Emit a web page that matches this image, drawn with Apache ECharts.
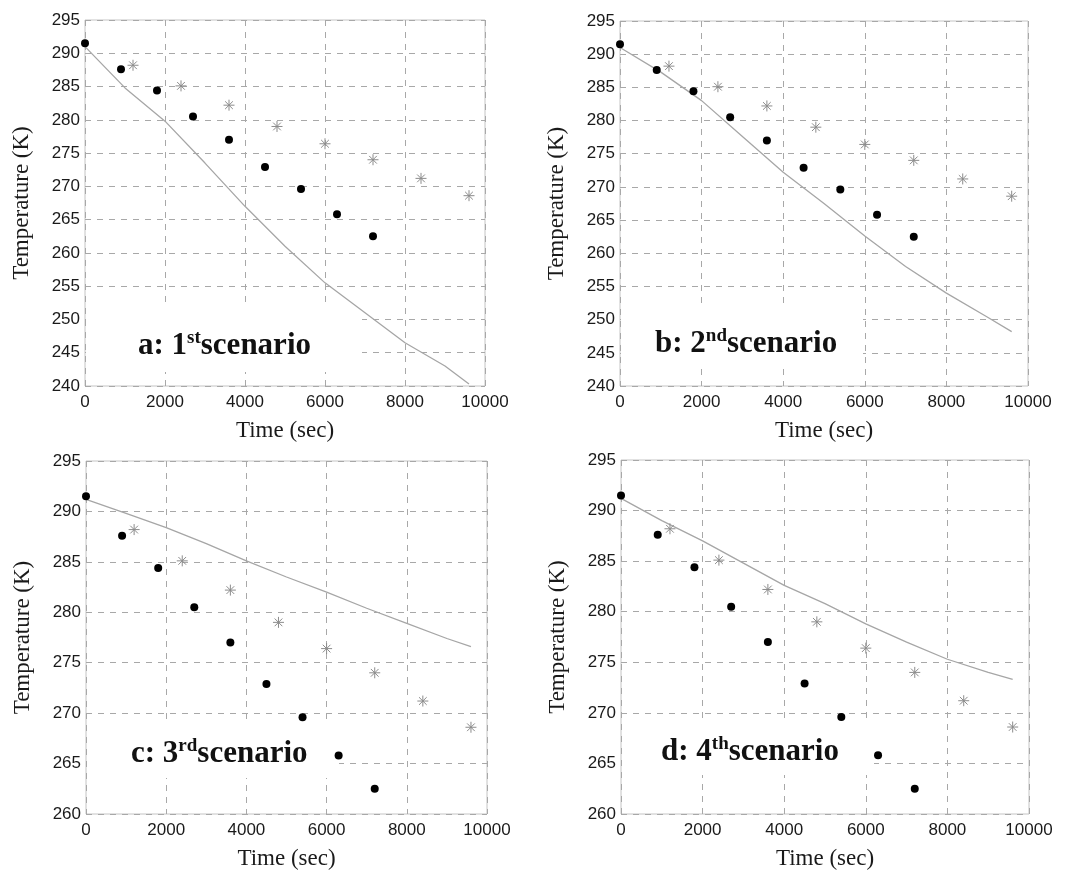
<!doctype html>
<html lang="en">
<head>
    <meta charset="utf-8">
    <title>Temperature scenarios</title>
    <style>
        html, body { margin: 0; padding: 0; background: #fff; }
        #main { width: 1071px; height: 871px; }
    </style>
</head>
<body>

<div id="main"></div>

<script src="https://cdn.jsdelivr.net/npm/echarts@6/dist/echarts.min.js"></script>

<script>
    var myChart = echarts.init(document.getElementById('main'));

    // measured points (black dots)
    var dotTime = [0, 900, 1800, 2700, 3600, 4500, 5400, 6300, 7200];
    var dotTemp = [291.5, 287.6, 284.4, 280.5, 277.0, 272.9, 269.6, 265.8, 262.5];

    // second data set (grey stars)
    var starTime = [1200, 2400, 3600, 4800, 6000, 7200, 8400, 9600];
    var starTemp = [288.2, 285.1, 282.2, 279.0, 276.4, 274.0, 271.2, 268.6];

    // simulated curves
    var curveTime = [0, 1000, 2000, 3000, 4000, 5000, 6000, 7000, 8000, 9000, 9600];
    var curveA = [291.0, 284.8, 279.8, 273.5, 267.0, 261.0, 255.5, 251.0, 246.5, 243.0, 240.3];
    var curveB = [291.0, 287.3, 283.0, 277.6, 272.2, 267.5, 262.6, 258.0, 254.0, 250.4, 248.2];
    var curveC = [291.2, 289.8, 288.4, 286.8, 285.1, 283.5, 282.0, 280.4, 278.9, 277.4, 276.6];
    var curveD = [291.2, 289.0, 287.0, 284.8, 282.6, 280.8, 278.8, 277.0, 275.3, 274.0, 273.3];

    var panels = [
        {label: 'a: 1', sup: 'st', curve: curveA, ymin: 240, grid: {left: 85, top: 20, width: 400, height: 366},
            box: [86, 308, 276, 64], text: [138, 329]},
        {label: 'b: 2', sup: 'nd', curve: curveB, ymin: 240, grid: {left: 620, top: 21, width: 408, height: 365},
            box: [621, 307, 242, 60], text: [655, 327]},
        {label: 'c: 3', sup: 'rd', curve: curveC, ymin: 260, grid: {left: 86, top: 461, width: 401, height: 354},
            box: [87, 723, 252, 55], text: [131, 737]},
        {label: 'd: 4', sup: 'th', curve: curveD, ymin: 260, grid: {left: 621, top: 460, width: 408, height: 356},
            box: [622, 722, 252, 53], text: [661, 735]}
    ];

    function pairs(xs, ys) {
        var res = [];
        for (var i = 0; i < xs.length; i++) {
            res.push([xs[i], ys[i]]);
        }
        return res;
    }

    var starPath = 'path://M0,5L10,5M5,0L5,10M1.5,1.5L8.5,8.5M8.5,1.5L1.5,8.5';

    var grids = [], xAxes = [], yAxes = [], series = [], graphics = [];

    panels.forEach(function (p, i) {
        grids.push({
            left: p.grid.left, top: p.grid.top, width: p.grid.width, height: p.grid.height,
            show: true, borderColor: '#c4c4c4', borderWidth: 1, backgroundColor: '#fff'
        });
        xAxes.push({
            gridIndex: i, type: 'value', min: 0, max: 10000, interval: 2000,
            name: 'Time (sec)', nameLocation: 'middle', nameGap: 33,
            nameTextStyle: {fontFamily: 'Liberation Serif', fontSize: 23, color: '#1a1a1a'},
            axisLine: {show: false}, axisTick: {show: false},
            axisLabel: {fontFamily: 'Liberation Sans', fontSize: 17, color: '#1a1a1a', margin: 8,
                formatter: function (v) { return String(v); }},
            splitLine: {show: true, lineStyle: {color: '#a8a8a8', type: [6, 6], width: 1}}
        });
        yAxes.push({
            gridIndex: i, type: 'value', min: p.ymin, max: 295, interval: 5,
            name: 'Temperature (K)', nameLocation: 'middle', nameGap: 52,
            nameTextStyle: {fontFamily: 'Liberation Serif', fontSize: 23, color: '#1a1a1a'},
            axisLine: {show: false}, axisTick: {show: false},
            axisLabel: {fontFamily: 'Liberation Sans', fontSize: 17, color: '#1a1a1a', margin: 5},
            splitLine: {show: true, lineStyle: {color: '#a8a8a8', type: [6, 6], width: 1}}
        });
        series.push({
            type: 'line', xAxisIndex: i, yAxisIndex: i, showSymbol: false, symbol: 'none',
            lineStyle: {color: '#a6a6a6', width: 1.3}, z: 3,
            data: pairs(curveTime, p.curve)
        });
        series.push({
            type: 'scatter', xAxisIndex: i, yAxisIndex: i, symbol: starPath, symbolSize: 11,
            itemStyle: {color: 'none', borderColor: '#8c8c8c', borderWidth: 1, opacity: 1}, z: 4,
            data: pairs(starTime, starTemp)
        });
        series.push({
            type: 'scatter', xAxisIndex: i, yAxisIndex: i, symbol: 'circle', symbolSize: 8,
            itemStyle: {color: '#000', opacity: 1}, z: 5,
            data: pairs(dotTime, dotTemp)
        });
        // white label box over the grid
        graphics.push({
            type: 'rect', z: 2,
            shape: {x: p.box[0], y: p.box[1], width: p.box[2], height: p.box[3]},
            style: {fill: '#fff'}
        });
        graphics.push({
            type: 'text', z: 10, x: p.text[0], y: p.text[1],
            style: {
                text: '{m|' + p.label + '}{s|' + p.sup + '}{m|scenario}',
                rich: {
                    m: {fontFamily: 'Liberation Serif', fontWeight: 'bold', fontSize: 31, lineHeight: 34, fill: '#111'},
                    s: {fontFamily: 'Liberation Serif', fontWeight: 'bold', fontSize: 19, lineHeight: 20, verticalAlign: 'top', fill: '#111'}
                }
            }
        });
    });

    var option = {
        backgroundColor: '#fff',
        animation: false,
        grid: grids,
        xAxis: xAxes,
        yAxis: yAxes,
        series: series,
        graphic: graphics
    };

    myChart.setOption(option);
</script>
</body>
</html>
